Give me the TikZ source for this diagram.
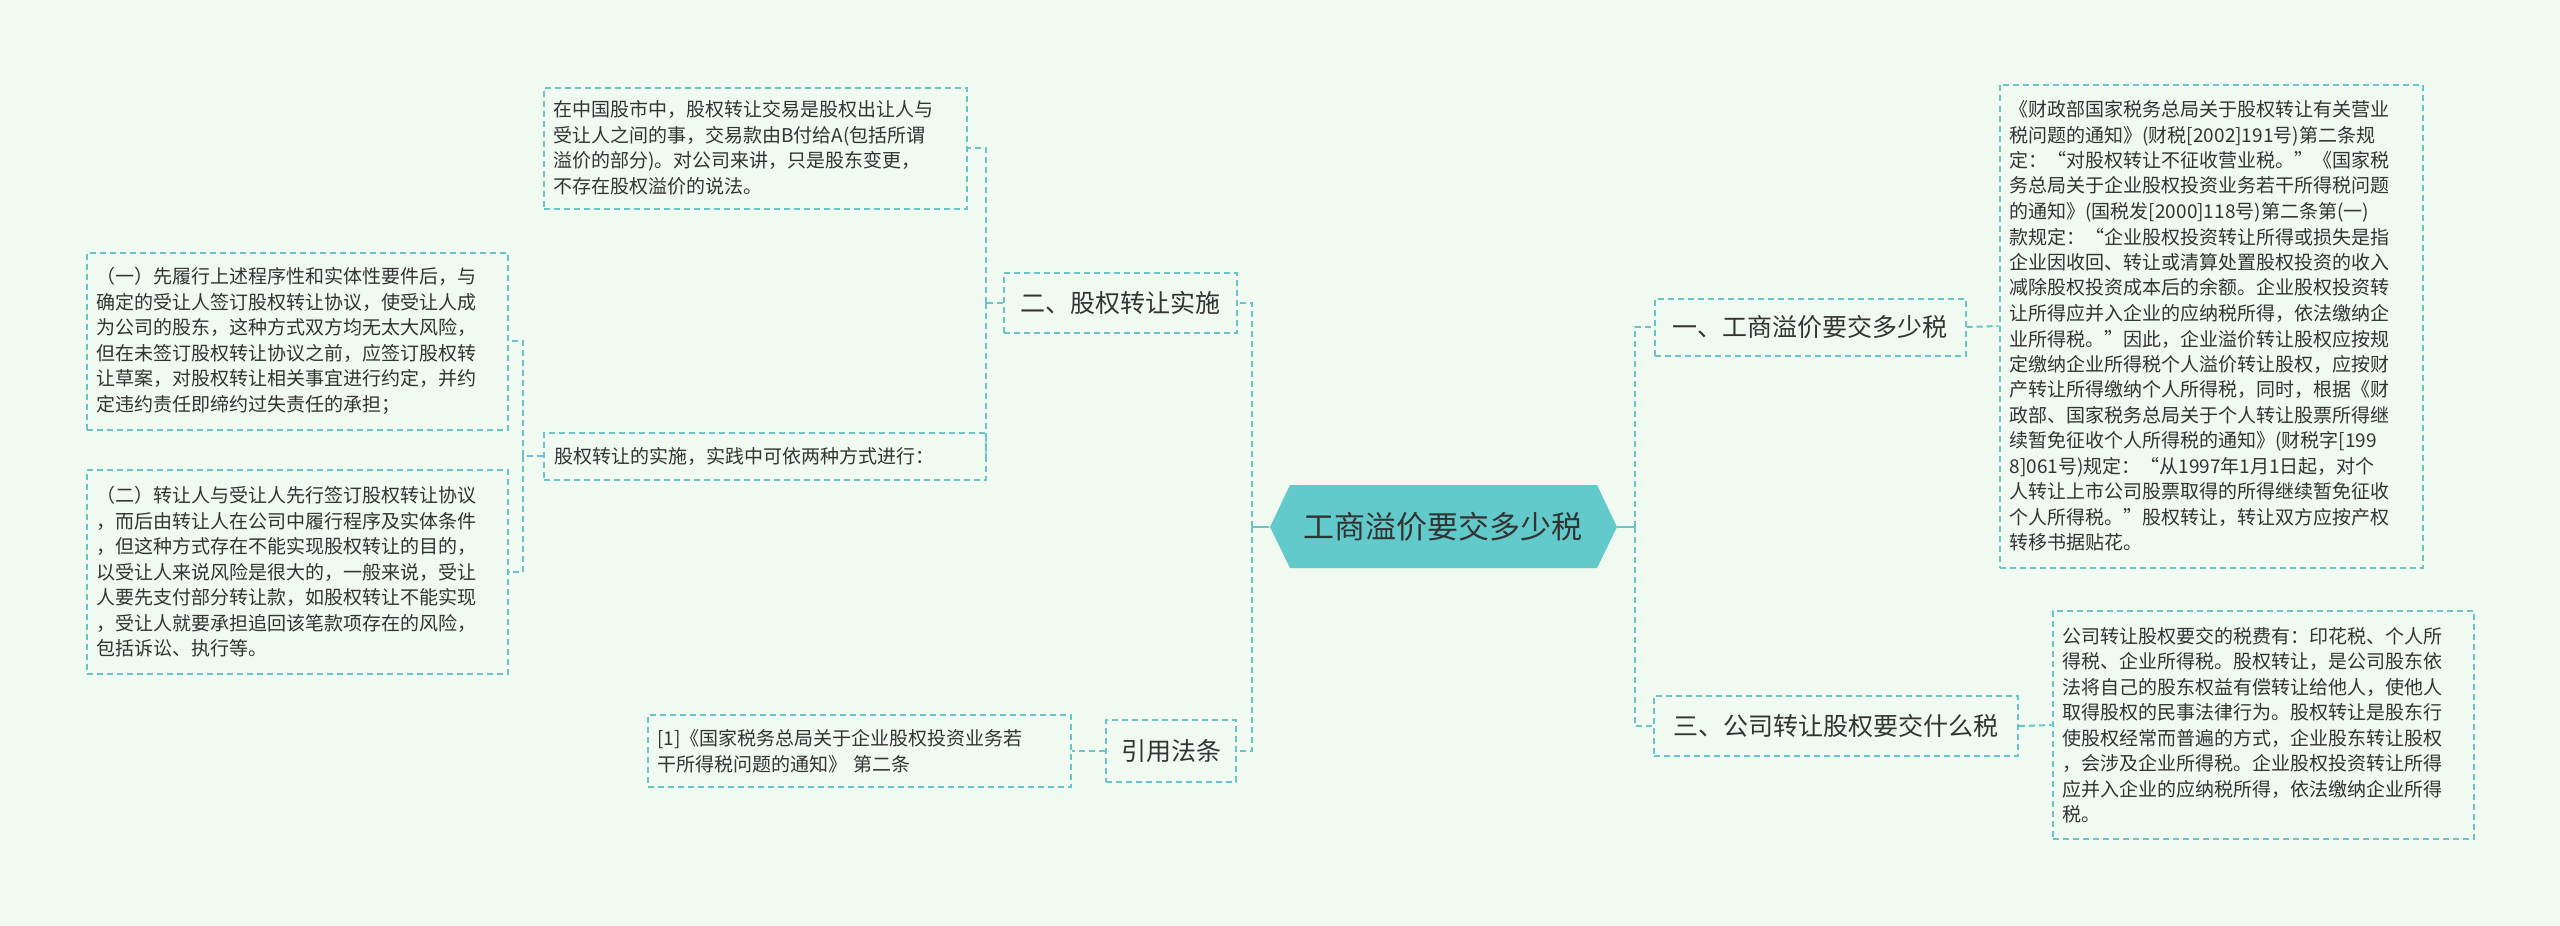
\documentclass[tikz,border=0pt]{standalone}
\usepackage{fontspec}
\setmainfont{Noto Sans CJK SC}
\definecolor{bg}{HTML}{F1FAF0}
\definecolor{bc}{HTML}{6BC4C9}
\definecolor{hx}{HTML}{62CACA}
\definecolor{tx}{HTML}{333333}
\begin{document}
\begin{tikzpicture}[x=1pt,y=-1pt,
 dline/.style={draw=bc,line width=2pt,dash pattern=on 6pt off 4pt},
 tbox/.style={dline,text=tx,align=left,inner sep=0pt,font=\fontsize{19}{25.5}\selectfont},
 bbox/.style={dline,text=tx,inner sep=0pt,font=\fontsize{25}{30}\selectfont},
 conn/.style={draw=bc,line width=2pt,dash pattern=on 6pt off 4pt}]
\fill[bg] (0,0) rectangle (2560,926);
\useasboundingbox (0,0) rectangle (2560,926);
% center
\fill[hx] (1270,527)--(1290,485)--(1597,485)--(1617,527)--(1597,568)--(1290,568)--cycle;
\node[minimum width=347pt,minimum height=83pt,inner sep=0pt,text=tx,font=\fontsize{31}{36}\selectfont] (c) at (1443,527) {工商溢价要交多少税};
% branches
\node[bbox,minimum width=311pt,minimum height=57pt] (b1) at (1810,327) {一、工商溢价要交多少税};
\node[bbox,minimum width=364pt,minimum height=60pt] (b3) at (1836,726) {三、公司转让股权要交什么税};
\node[bbox,minimum width=233pt,minimum height=60pt] (b2) at (1120,303) {二、股权转让实施};
\node[bbox,minimum width=130pt,minimum height=62pt] (bref) at (1171,751) {引用法条};
% texts
\node[tbox,minimum width=423pt,minimum height=483pt,text width=403pt] (t1) at (2211,326) {《财政部国家税务总局关于股权转让有关营业\\税问题的通知》(财税[2002]191号)第二条规\\定：“对股权转让不征收营业税。”《国家税\\务总局关于企业股权投资业务若干所得税问题\\的通知》(国税发[2000]118号)第二条第(一)\\款规定：“企业股权投资转让所得或损失是指\\企业因收回、转让或清算处置股权投资的收入\\减除股权投资成本后的余额。企业股权投资转\\让所得应并入企业的应纳税所得，依法缴纳企\\业所得税。”因此，企业溢价转让股权应按规\\定缴纳企业所得税个人溢价转让股权，应按财\\产转让所得缴纳个人所得税，同时，根据《财\\政部、国家税务总局关于个人转让股票所得继\\续暂免征收个人所得税的通知》(财税字[199\\8]061号)规定：“从1997年1月1日起，对个\\人转让上市公司股票取得的所得继续暂免征收\\个人所得税。”股权转让，转让双方应按产权\\转移书据贴花。};
\node[tbox,minimum width=421pt,minimum height=228pt,text width=401pt] (t3) at (2263,725) {公司转让股权要交的税费有：印花税、个人所\\得税、企业所得税。股权转让，是公司股东依\\法将自己的股东权益有偿转让给他人，使他人\\取得股权的民事法律行为。股权转让是股东行\\使股权经常而普遍的方式，企业股东转让股权\\，会涉及企业所得税。企业股权投资转让所得\\应并入企业的应纳税所得，依法缴纳企业所得\\税。};
\node[tbox,minimum width=423pt,minimum height=121pt,text width=403pt] (l1) at (755,148) {在中国股市中，股权转让交易是股权出让人与\\受让人之间的事，交易款由B付给A(包括所谓\\溢价的部分)。对公司来讲，只是股东变更，\\不存在股权溢价的说法。};
\node[tbox,minimum width=442pt,minimum height=47pt,text width=422pt] (l2) at (765,456) {股权转让的实施，实践中可依两种方式进行：};
\node[tbox,minimum width=421pt,minimum height=177pt,text width=401pt] (l3) at (297,341) {（一）先履行上述程序性和实体性要件后，与\\确定的受让人签订股权转让协议，使受让人成\\为公司的股东，这种方式双方均无太大风险，\\但在未签订股权转让协议之前，应签订股权转\\让草案，对股权转让相关事宜进行约定，并约\\定违约责任即缔约过失责任的承担；};
\node[tbox,minimum width=421pt,minimum height=204pt,text width=401pt] (l4) at (297,572) {（二）转让人与受让人先行签订股权转让协议\\，而后由转让人在公司中履行程序及实体条件\\，但这种方式存在不能实现股权转让的目的，\\以受让人来说风险是很大的，一般来说，受让\\人要先支付部分转让款，如股权转让不能实现\\，受让人就要承担追回该笔款项存在的风险，\\包括诉讼、执行等。};
\node[tbox,minimum width=423pt,minimum height=72pt,text width=403pt] (r1) at (859,751) {[1]《国家税务总局关于企业股权投资业务若\\干所得税问题的通知》 第二条};
% connectors
\draw[bc,line width=2pt] (c.east) -- ++(18,0) coordinate (rb);
\draw[conn] (rb) |- (b1.west);
\draw[conn] (rb) |- (b3.west);
\draw[bc,line width=2pt] (c.west) -- ++(-17,0) coordinate (lb);
\draw[conn] (lb) |- (b2.east);
\draw[conn] (lb) |- (bref.east);
\draw[conn] (b2.west) -- ++(-17,0) coordinate (x2);
\draw[conn] (x2) |- (l1.east);
\draw[conn] (x2) |- (l2.east);
\draw[conn] (l2.west) -- ++(-20,0) coordinate (x3);
\draw[conn] (x3) |- (l3.east);
\draw[conn] (x3) |- (l4.east);
\draw[conn] (b1.east) -- (t1.west);
\draw[conn] (b3.east) -- (t3.west);
\draw[conn] (bref.west) -- (r1.east);
\end{tikzpicture}
\end{document}
